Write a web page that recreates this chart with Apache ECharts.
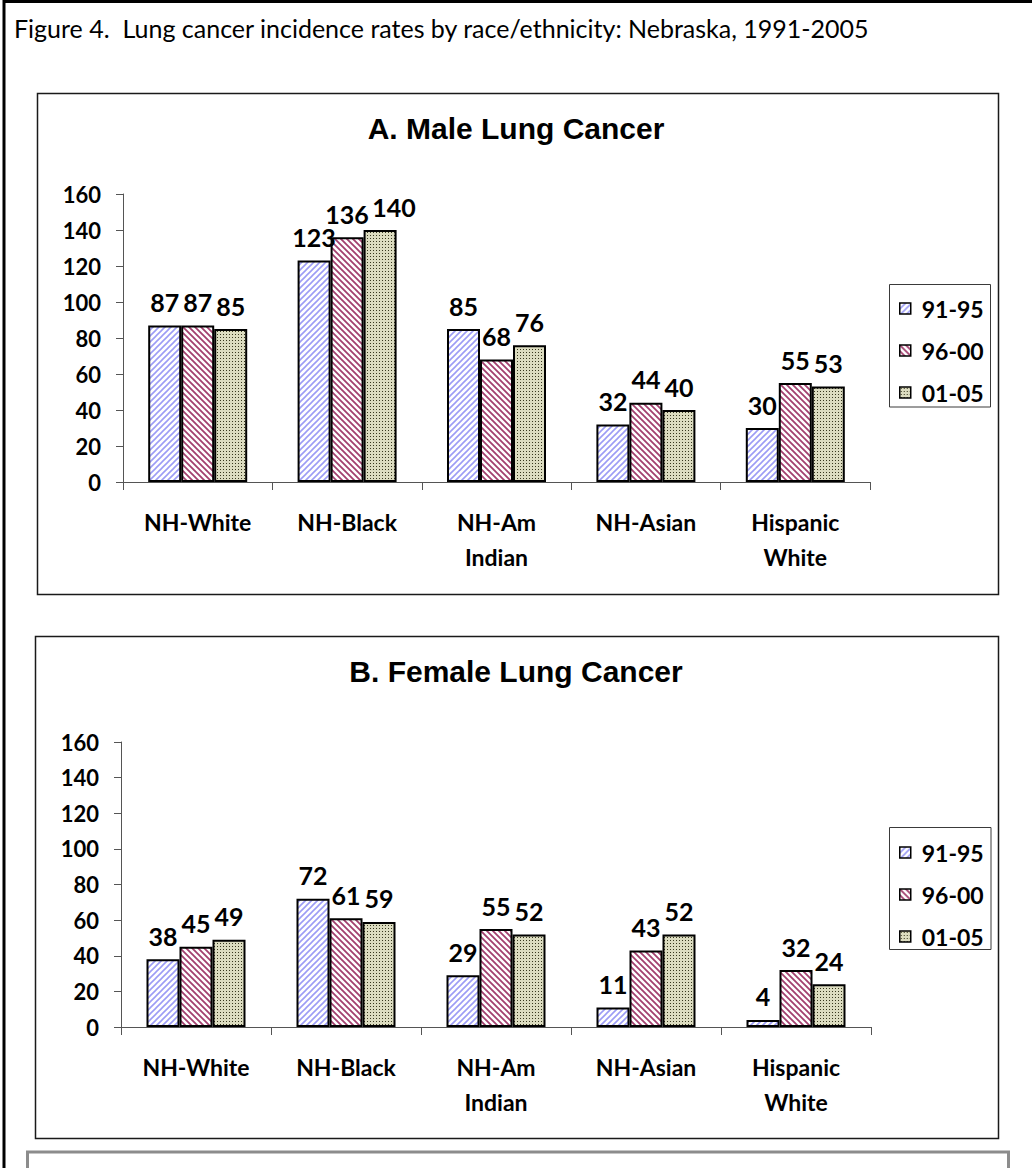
<!DOCTYPE html>
<html>
<head>
<meta charset="utf-8">
<title>Lung cancer incidence rates by race/ethnicity: Nebraska, 1991-2005</title>
<script src="https://cdn.jsdelivr.net/npm/echarts@6/dist/echarts.min.js"></script>
<style>
  html, body { margin: 0; padding: 0; background: #ffffff; }
  #chart { width: 1032px; height: 1168px; }
</style>
</head>
<body>
<div id="chart"></div>
<script>
// Categories and periods
const categories = ['NH-White', 'NH-Black', 'NH-Am\nIndian', 'NH-Asian', 'Hispanic\nWhite'];
const periods = ['91-95', '96-00', '01-05'];

// Male incidence rates per period
const male9195 = [87, 123, 85, 32, 30];
const male9600 = [87, 136, 68, 44, 55];
const male0105 = [85, 140, 76, 40, 53];

// Female incidence rates per period
const female9195 = [38, 72, 29, 11, 4];
const female9600 = [45, 61, 55, 43, 32];
const female0105 = [49, 59, 52, 52, 24];

// Value axis range
const yMin = 0;
const yMax = 160;
const yStep = 20;

const figureTitle = 'Figure 4.  Lung cancer incidence rates by race/ethnicity: Nebraska, 1991-2005';
const panelTitles = ['A. Male Lung Cancer', 'B. Female Lung Cancer'];

const LABEL_FONT = 'Lato, "Open Sans", sans-serif';
const TITLE_FONT = '"Liberation Sans", Arial, sans-serif';

// Value labels that sit too close to a neighbour get pushed sideways
// (key: panel-period-category -> horizontal shift in px)
const labelShift = { '0-2-1': 14 };

// ---- fill patterns -------------------------------------------------------
function hatch(color, forward, size, lw) {
  const c = document.createElement('canvas');
  c.width = c.height = size;
  const g = c.getContext('2d');
  g.fillStyle = '#ffffff';
  g.fillRect(0, 0, size, size);
  g.strokeStyle = color;
  g.lineWidth = lw;
  g.beginPath();
  if (forward) {          // "/" stripes
    g.moveTo(-1, 1); g.lineTo(1, -1);
    g.moveTo(0, size); g.lineTo(size, 0);
    g.moveTo(size - 1, size + 1); g.lineTo(size + 1, size - 1);
  } else {                // "\" stripes
    g.moveTo(-1, size - 1); g.lineTo(1, size + 1);
    g.moveTo(0, 0); g.lineTo(size, size);
    g.moveTo(size - 1, -1); g.lineTo(size + 1, 1);
  }
  g.stroke();
  return { image: c, repeat: 'repeat' };
}

function dots(bg, fg, size) {
  const c = document.createElement('canvas');
  c.width = c.height = size;
  const g = c.getContext('2d');
  g.fillStyle = bg;
  g.fillRect(0, 0, size, size);
  g.fillStyle = fg;
  g.fillRect(1, 1, 1, 1);
  return { image: c, repeat: 'repeat' };
}

const fills = [
  hatch('#9c9cf5', true, 6, 1.6),
  hatch('#a3406f', false, 6, 1.8),
  dots('#dcdcc0', '#38381e', 3)
];

// ---- axes ---------------------------------------------------------------
function xAxisFor(gridIndex) {
  return {
    type: 'category',
    gridIndex: gridIndex,
    data: categories,
    axisLine: { show: true, lineStyle: { color: '#555555', width: 1 } },
    axisTick: { show: true, length: 8, lineStyle: { color: '#555555' } },
    axisLabel: {
      color: '#000000',
      fontFamily: LABEL_FONT,
      fontSize: 23,
      fontWeight: 'bold',
      lineHeight: 35,
      margin: 22,
      interval: 0
    },
    splitLine: { show: false }
  };
}

function yAxisFor(gridIndex) {
  return {
    type: 'value',
    gridIndex: gridIndex,
    min: yMin,
    max: yMax,
    interval: yStep,
    axisLine: { show: true, lineStyle: { color: '#555555', width: 1 } },
    axisTick: { show: true, length: 7, lineStyle: { color: '#555555' } },
    axisLabel: {
      color: '#000000',
      fontFamily: LABEL_FONT,
      fontSize: 22,
      fontWeight: 'bold',
      margin: 22
    },
    splitLine: { show: false }
  };
}

function barSeries(name, values, idx, panel) {
  const data = values.map(function (v, ci) {
    const shift = labelShift[panel + '-' + idx + '-' + ci];
    return shift ? { value: v, label: { offset: [shift, 0] } } : v;
  });
  return {
    type: 'bar',
    name: name,
    data: data,
    xAxisIndex: panel,
    yAxisIndex: panel,
    barWidth: 33,
    barGap: '0%',
    itemStyle: { color: fills[idx], borderColor: '#000000', borderWidth: 2 },
    label: {
      show: true,
      position: 'top',
      distance: 11,
      color: '#000000',
      fontFamily: LABEL_FONT,
      fontSize: 25,
      fontWeight: 'bold'
    },
    emphasis: { disabled: true }
  };
}

function legendFor(top) {
  return {
    data: periods.map(function (p) { return { name: p, icon: 'rect' }; }),
    orient: 'vertical',
    left: 899,
    top: top,
    padding: 0,
    itemWidth: 11,
    itemHeight: 11,
    itemGap: 19,
    selectedMode: false,
    itemStyle: { borderColor: '#000000', borderWidth: 1.5 },
    textStyle: {
      color: '#000000',
      fontFamily: LABEL_FONT,
      fontSize: 23,
      fontWeight: 'bold',
      lineHeight: 22,
      padding: [0, 0, 0, 6]
    }
  };
}

const option = {
  backgroundColor: '#ffffff',
  animation: false,
  title: [
    {
      text: figureTitle,
      left: 14,
      top: 15,
      padding: 0,
      textStyle: { fontFamily: LABEL_FONT, fontWeight: 'normal', fontSize: 25, color: '#000000' }
    },
    {
      text: panelTitles[0],
      left: 'center',
      top: 113,
      padding: 0,
      textStyle: { fontFamily: TITLE_FONT, fontWeight: 'bold', fontSize: 30, color: '#000000' }
    },
    {
      text: panelTitles[1],
      left: 'center',
      top: 656,
      padding: 0,
      textStyle: { fontFamily: TITLE_FONT, fontWeight: 'bold', fontSize: 30, color: '#000000' }
    }
  ],
  legend: [legendFor(297), legendFor(841)],
  grid: [
    { left: 123, top: 194, width: 747, height: 288 },
    { left: 121, top: 742, width: 750, height: 285 }
  ],
  xAxis: [xAxisFor(0), xAxisFor(1)],
  yAxis: [yAxisFor(0), yAxisFor(1)],
  series: [
    barSeries(periods[0], male9195, 0, 0),
    barSeries(periods[1], male9600, 1, 0),
    barSeries(periods[2], male0105, 2, 0),
    barSeries(periods[0], female9195, 0, 1),
    barSeries(periods[1], female9600, 1, 1),
    barSeries(periods[2], female0105, 2, 1)
  ],
  graphic: [
    // page frame (open to the right and bottom)
    { type: 'polyline', silent: true, z: 10,
      shape: { points: [[4, 1200], [4, 1.5], [1040, 1.5]] },
      style: { fill: null, stroke: '#000000', lineWidth: 3 } },
    // panel A frame
    { type: 'rect', silent: true, z: -1,
      shape: { x: 37.5, y: 93.5, width: 961, height: 501 },
      style: { fill: null, stroke: '#1a1a1a', lineWidth: 1.5 } },
    // panel B frame
    { type: 'rect', silent: true, z: -1,
      shape: { x: 35.5, y: 636.5, width: 963, height: 502 },
      style: { fill: null, stroke: '#1a1a1a', lineWidth: 1.5 } },
    // legend frames
    { type: 'rect', silent: true, z: -1,
      shape: { x: 889.5, y: 284.5, width: 101, height: 122.5 },
      style: { fill: null, stroke: '#3a3a3a', lineWidth: 1 } },
    { type: 'rect', silent: true, z: -1,
      shape: { x: 889.5, y: 827.5, width: 101.5, height: 122 },
      style: { fill: null, stroke: '#3a3a3a', lineWidth: 1 } },
    // notes box below the charts
    { type: 'polyline', silent: true, z: 10,
      shape: { points: [[27.5, 1200], [27.5, 1152], [1008.5, 1152], [1008.5, 1200]] },
      style: { fill: null, stroke: '#8c8c8c', lineWidth: 3 } }
  ]
};

const chart = echarts.init(document.getElementById('chart'), null, { renderer: 'svg' });
chart.setOption(option);
</script>
</body>
</html>
